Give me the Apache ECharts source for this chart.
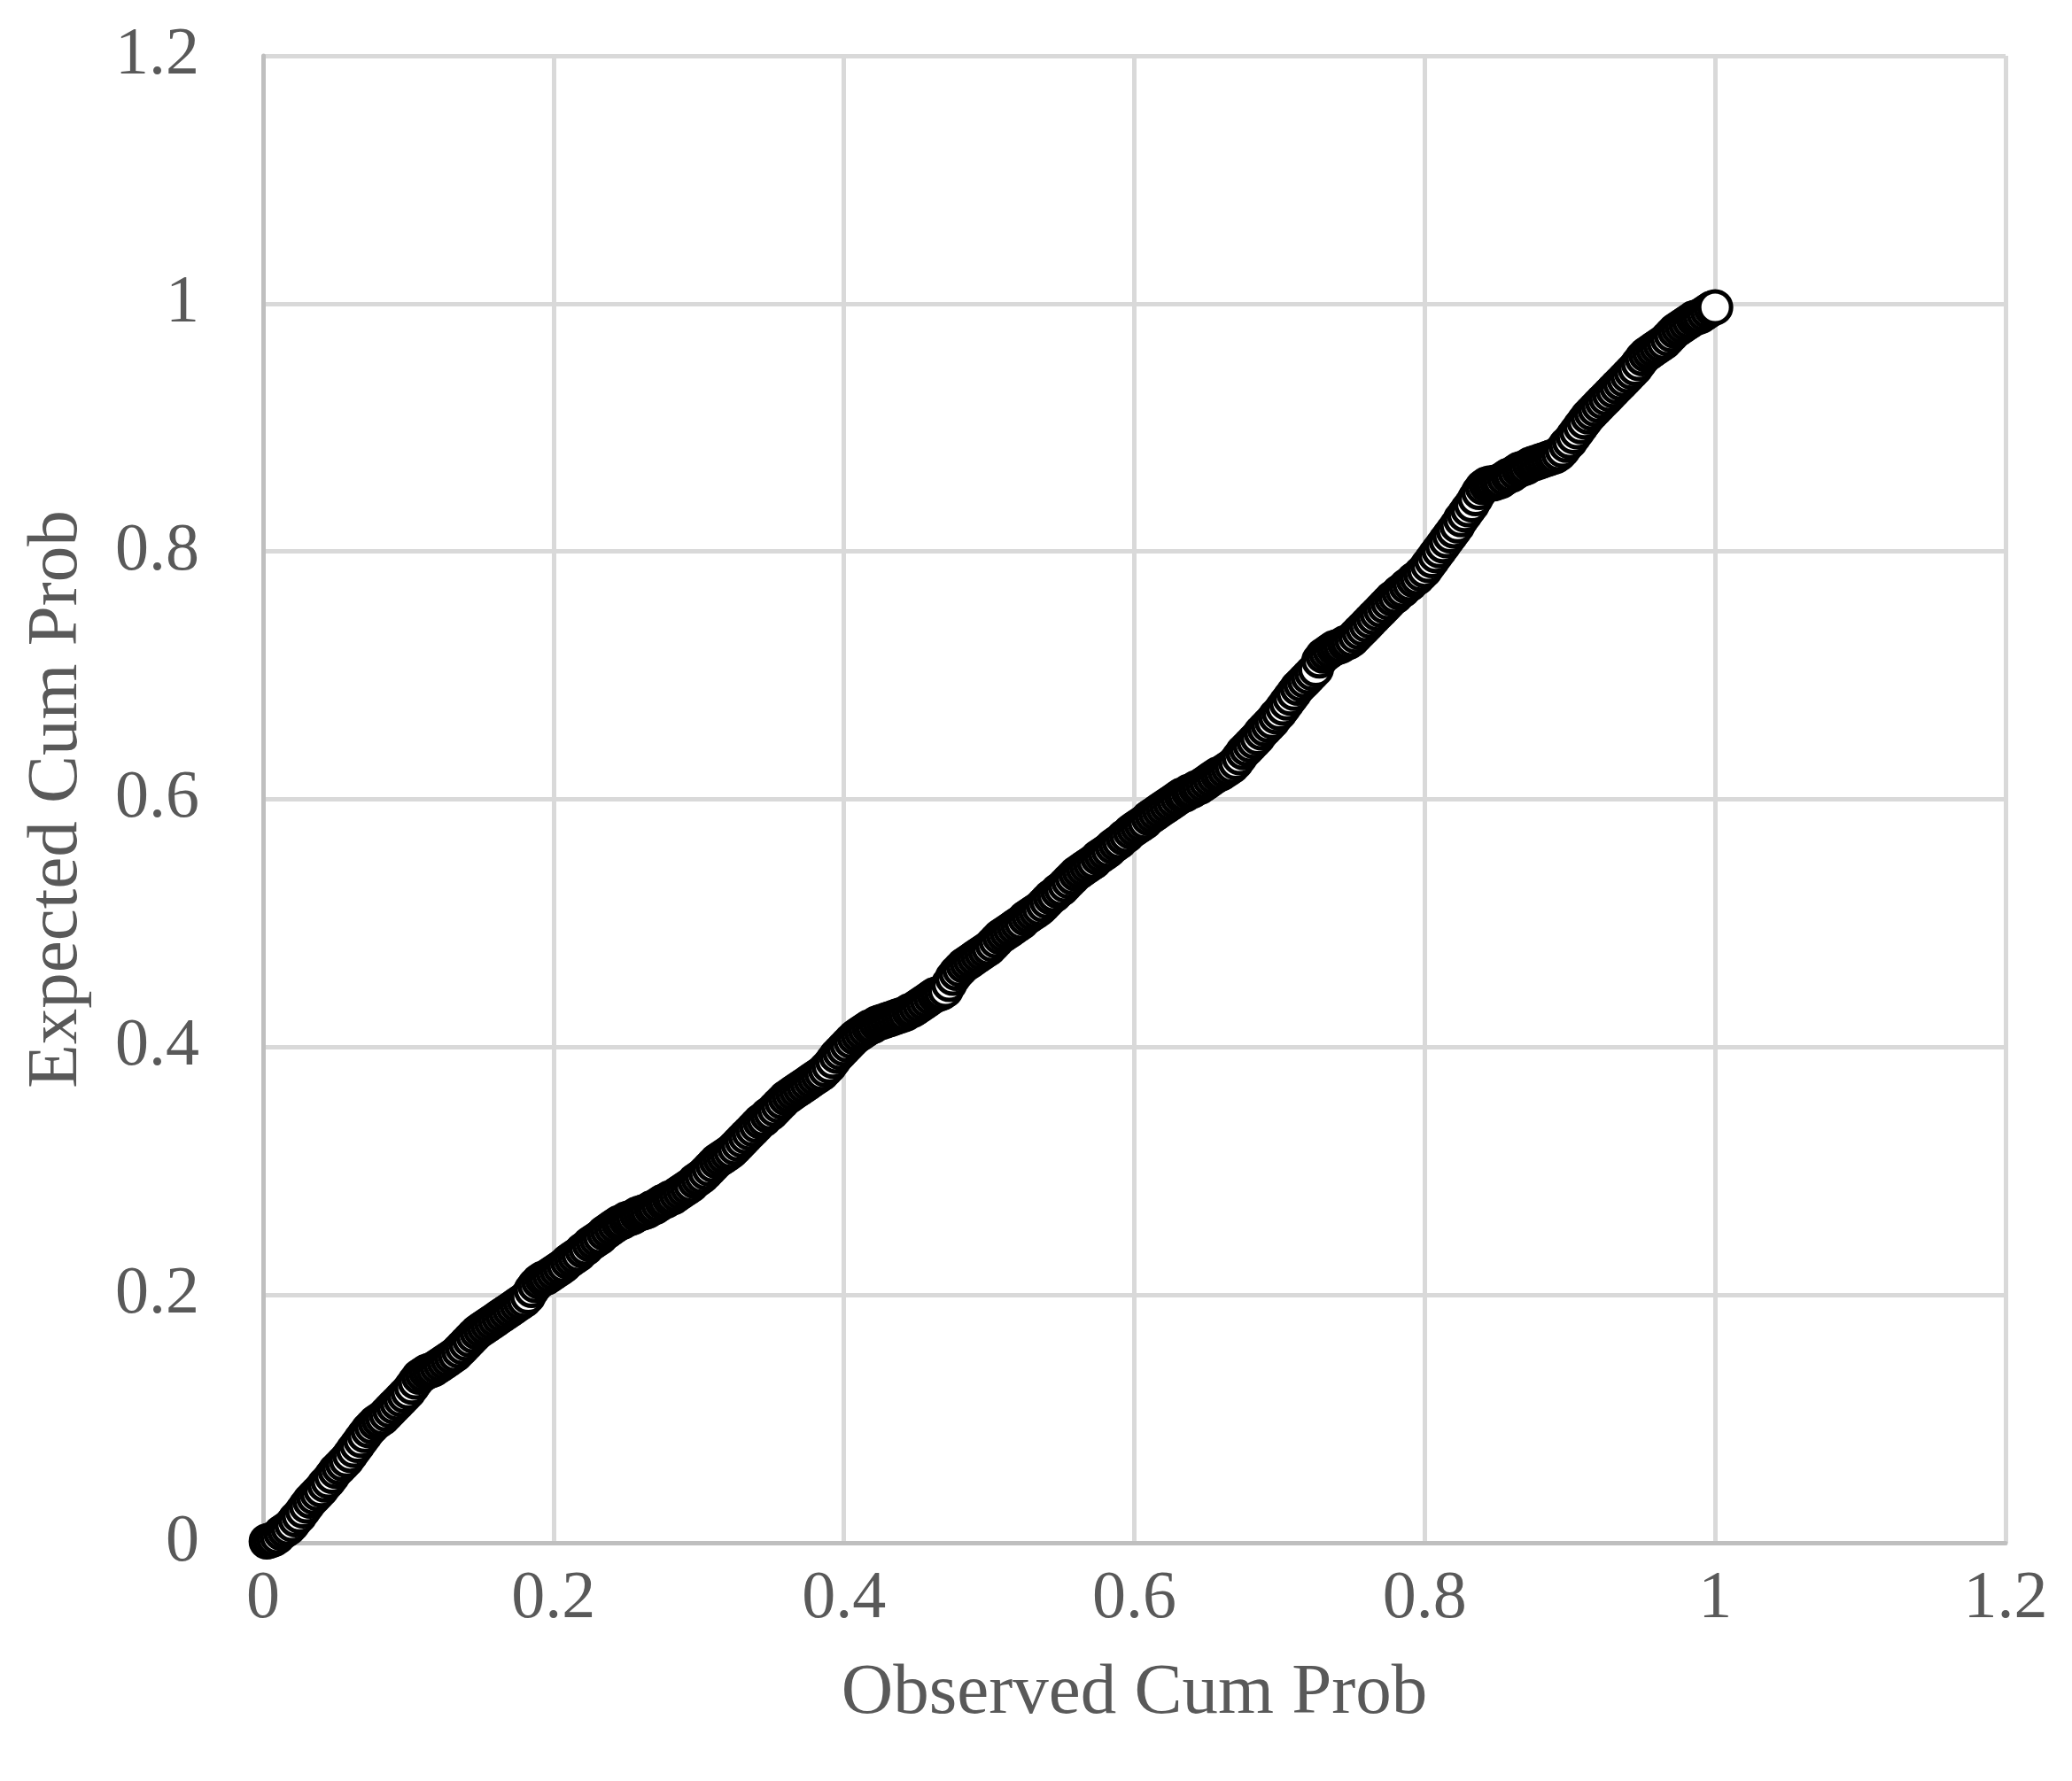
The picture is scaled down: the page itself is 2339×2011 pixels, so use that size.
<!DOCTYPE html>
<html>
<head>
<meta charset="utf-8">
<script src="https://cdn.jsdelivr.net/npm/echarts@6/dist/echarts.min.js"></script>
<style>
  html, body { margin: 0; padding: 0; background: #fff; }
  #chart { width: 2339px; height: 2011px; }
</style>
</head>
<body>
<div id="chart"></div>
<script>
// P-P plot: observed vs expected cumulative probability
const observedCum = [
  0.0025,0.005,0.0075,0.01,0.0125,0.015,0.0175,0.02,0.0225,0.025,
  0.0275,0.03,0.0325,0.035,0.0375,0.04,0.0425,0.045,0.0475,0.05,
  0.0525,0.055,0.0575,0.06,0.0625,0.065,0.0675,0.07,0.0725,0.075,
  0.0775,0.08,0.0825,0.085,0.0875,0.09,0.0925,0.095,0.0975,0.1,
  0.1025,0.105,0.1075,0.11,0.1125,0.115,0.1175,0.12,0.1225,0.125,
  0.1275,0.13,0.1325,0.135,0.1375,0.14,0.1425,0.145,0.1475,0.15,
  0.1525,0.155,0.1575,0.16,0.1625,0.165,0.1675,0.17,0.1725,0.175,
  0.1775,0.18,0.1825,0.185,0.1875,0.19,0.1925,0.195,0.1975,0.2,
  0.2025,0.205,0.2075,0.21,0.2125,0.215,0.2175,0.22,0.2225,0.225,
  0.2275,0.23,0.2325,0.235,0.2375,0.24,0.2425,0.245,0.2475,0.25,
  0.2525,0.255,0.2575,0.26,0.2625,0.265,0.2675,0.27,0.2725,0.275,
  0.2775,0.28,0.2825,0.285,0.2875,0.29,0.2925,0.295,0.2975,0.3,
  0.3025,0.305,0.3075,0.31,0.3125,0.315,0.3175,0.32,0.3225,0.325,
  0.3275,0.33,0.3325,0.335,0.3375,0.34,0.3425,0.345,0.3475,0.35,
  0.3525,0.355,0.3575,0.36,0.3625,0.365,0.3675,0.37,0.3725,0.375,
  0.3775,0.38,0.3825,0.385,0.3875,0.39,0.3925,0.395,0.3975,0.4,
  0.4025,0.405,0.4075,0.41,0.4125,0.415,0.4175,0.42,0.4225,0.425,
  0.4275,0.43,0.4325,0.435,0.4375,0.44,0.4425,0.445,0.4475,0.45,
  0.4525,0.455,0.4575,0.46,0.4625,0.465,0.4675,0.47,0.4725,0.475,
  0.4775,0.48,0.4825,0.485,0.4875,0.49,0.4925,0.495,0.4975,0.5,
  0.5025,0.505,0.5075,0.51,0.5125,0.515,0.5175,0.52,0.5225,0.525,
  0.5275,0.53,0.5325,0.535,0.5375,0.54,0.5425,0.545,0.5475,0.55,
  0.5525,0.555,0.5575,0.56,0.5625,0.565,0.5675,0.57,0.5725,0.575,
  0.5775,0.58,0.5825,0.585,0.5875,0.59,0.5925,0.595,0.5975,0.6,
  0.6025,0.605,0.6075,0.61,0.6125,0.615,0.6175,0.62,0.6225,0.625,
  0.6275,0.63,0.6325,0.635,0.6375,0.64,0.6425,0.645,0.6475,0.65,
  0.6525,0.655,0.6575,0.66,0.6625,0.665,0.6675,0.67,0.6725,0.675,
  0.6775,0.68,0.6825,0.685,0.6875,0.69,0.6925,0.695,0.6975,0.7,
  0.7025,0.705,0.7075,0.71,0.7125,0.715,0.7175,0.72,0.7225,0.725,
  0.7275,0.73,0.7325,0.735,0.7375,0.74,0.7425,0.745,0.7475,0.75,
  0.7525,0.755,0.7575,0.76,0.7625,0.765,0.7675,0.77,0.7725,0.775,
  0.7775,0.78,0.7825,0.785,0.7875,0.79,0.7925,0.795,0.7975,0.8,
  0.8025,0.805,0.8075,0.81,0.8125,0.815,0.8175,0.82,0.8225,0.825,
  0.8275,0.83,0.8325,0.835,0.8375,0.84,0.8425,0.845,0.8475,0.85,
  0.8525,0.855,0.8575,0.86,0.8625,0.865,0.8675,0.87,0.8725,0.875,
  0.8775,0.88,0.8825,0.885,0.8875,0.89,0.8925,0.895,0.8975,0.9,
  0.9025,0.905,0.9075,0.91,0.9125,0.915,0.9175,0.92,0.9225,0.925,
  0.9275,0.93,0.9325,0.935,0.9375,0.94,0.9425,0.945,0.9475,0.95,
  0.9525,0.955,0.9575,0.96,0.9625,0.965,0.9675,0.97,0.9725,0.975,
  0.9775,0.98,0.9825,0.985,0.9875,0.99,0.9925,0.995,0.9975,1
];

const expectedCum = [
  0.001,0.002,0.003,0.005,0.008,0.010,0.012,0.015,0.019,0.022,
  0.026,0.030,0.034,0.037,0.040,0.043,0.047,0.050,0.054,0.058,
  0.061,0.064,0.067,0.071,0.075,0.079,0.083,0.087,0.091,0.094,
  0.097,0.099,0.101,0.104,0.107,0.110,0.113,0.116,0.119,0.122,
  0.126,0.130,0.134,0.136,0.138,0.139,0.140,0.142,0.144,0.146,
  0.148,0.150,0.152,0.155,0.158,0.161,0.164,0.167,0.170,0.172,
  0.174,0.176,0.178,0.180,0.182,0.184,0.186,0.188,0.190,0.192,
  0.194,0.196,0.199,0.204,0.208,0.211,0.213,0.214,0.216,0.218,
  0.220,0.222,0.224,0.227,0.229,0.231,0.233,0.236,0.238,0.241,
  0.243,0.245,0.247,0.250,0.252,0.254,0.256,0.258,0.259,0.261,
  0.262,0.263,0.265,0.266,0.267,0.268,0.270,0.271,0.273,0.275,
  0.276,0.278,0.279,0.281,0.283,0.285,0.287,0.289,0.292,0.294,
  0.296,0.299,0.302,0.305,0.308,0.310,0.312,0.314,0.316,0.319,
  0.322,0.325,0.328,0.331,0.334,0.337,0.340,0.342,0.345,0.347,
  0.350,0.353,0.356,0.359,0.361,0.363,0.365,0.367,0.369,0.371,
  0.373,0.375,0.377,0.379,0.382,0.385,0.389,0.393,0.396,0.399,
  0.402,0.405,0.408,0.410,0.412,0.414,0.416,0.417,0.419,0.420,
  0.421,0.422,0.423,0.424,0.425,0.426,0.427,0.429,0.430,0.432,
  0.434,0.436,0.438,0.440,0.442,0.443,0.444,0.446,0.451,0.456,
  0.460,0.463,0.466,0.468,0.470,0.472,0.474,0.476,0.478,0.480,
  0.483,0.486,0.489,0.491,0.493,0.495,0.497,0.499,0.501,0.504,
  0.506,0.508,0.510,0.512,0.515,0.518,0.521,0.523,0.526,0.528,
  0.531,0.534,0.537,0.540,0.542,0.544,0.546,0.548,0.550,0.553,
  0.555,0.557,0.559,0.562,0.564,0.566,0.569,0.571,0.574,0.576,
  0.578,0.580,0.582,0.585,0.587,0.589,0.591,0.593,0.595,0.597,
  0.599,0.601,0.603,0.604,0.606,0.607,0.609,0.610,0.612,0.614,
  0.616,0.618,0.620,0.621,0.623,0.625,0.627,0.630,0.634,0.638,
  0.641,0.644,0.647,0.650,0.654,0.657,0.660,0.663,0.667,0.670,
  0.674,0.678,0.682,0.686,0.690,0.693,0.696,0.699,0.702,0.705,
  0.712,0.716,0.718,0.720,0.722,0.723,0.724,0.726,0.727,0.729,
  0.732,0.735,0.738,0.741,0.744,0.747,0.750,0.753,0.756,0.759,
  0.762,0.764,0.767,0.769,0.772,0.774,0.777,0.779,0.782,0.785,
  0.789,0.793,0.797,0.801,0.805,0.809,0.813,0.817,0.821,0.826,
  0.830,0.834,0.838,0.843,0.848,0.852,0.854,0.855,0.855,0.856,
  0.857,0.859,0.861,0.862,0.864,0.866,0.867,0.868,0.870,0.871,
  0.872,0.873,0.874,0.875,0.876,0.877,0.879,0.882,0.886,0.889,
  0.893,0.897,0.901,0.905,0.909,0.912,0.915,0.918,0.921,0.924,
  0.927,0.930,0.933,0.936,0.939,0.942,0.945,0.948,0.952,0.956,
  0.959,0.961,0.963,0.965,0.967,0.969,0.972,0.975,0.978,0.980,
  0.982,0.984,0.986,0.988,0.989,0.990,0.992,0.994,0.996,0.997
];

const axisTicks = [0, 0.2, 0.4, 0.6, 0.8, 1, 1.2];

const fontFamily = '"Liberation Serif", "Times New Roman", serif';
const labelColor = '#595959';

function tickLabel(v) {
  return String(+v.toFixed(1));
}

const axisCommon = {
  type: 'value',
  min: axisTicks[0],
  max: axisTicks[axisTicks.length - 1],
  interval: 0.2,
  nameLocation: 'middle',
  nameTextStyle: { fontFamily: fontFamily, fontSize: 81, color: labelColor },
  axisLine: { show: true, lineStyle: { color: '#bfbfbf', width: 5 } },
  axisTick: { show: false },
  splitLine: { show: true, lineStyle: { color: '#d9d9d9', width: 5 } },
  axisLabel: { fontFamily: fontFamily, fontSize: 76, color: labelColor, formatter: tickLabel }
};

const chart = echarts.init(document.getElementById('chart'));
chart.setOption({
  backgroundColor: '#ffffff',
  animation: false,
  grid: { left: 297, right: 75, top: 63, bottom: 269, containLabel: false },
  xAxis: Object.assign({}, axisCommon, {
    name: 'Observed Cum Prob',
    nameGap: 130,
    axisLabel: Object.assign({}, axisCommon.axisLabel, { margin: 26 })
  }),
  yAxis: Object.assign({}, axisCommon, {
    name: 'Expected Cum Prob',
    nameGap: 192,
    axisLabel: Object.assign({}, axisCommon.axisLabel, { margin: 72 })
  }),
  series: [{
    type: 'scatter',
    symbol: 'circle',
    symbolSize: 36,
    itemStyle: { color: '#ffffff', borderColor: '#000000', borderWidth: 5, opacity: 1 },
    emphasis: { disabled: true },
    data: observedCum.map((x, i) => [x, expectedCum[i]])
  }]
});
</script>
</body>
</html>
